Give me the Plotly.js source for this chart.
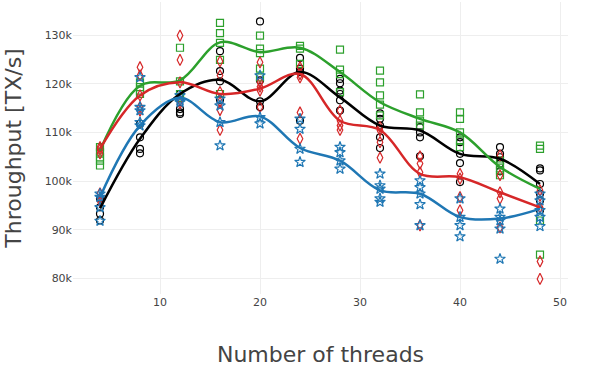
<!DOCTYPE html>
<html>
<head>
<meta charset="utf-8">
<script src="https://cdn.plot.ly/plotly-3.0.1.min.js"></script>
<style>html,body{margin:0;padding:0;background:#fff;}#chart{width:598px;height:371px;}</style>
</head>
<body>
<div id="chart"></div>
<script>
const threads = [4, 8, 12, 16, 20, 24, 28, 32, 36, 40, 44, 48];

// Individual runs (values in TX/s, thousands)
const blackRuns = [
  [96.4, 94.6, 93.3, 91.9],
  [111.8, 109.0, 106.6, 105.7],
  [117.9, 114.8, 114.1, 113.8],
  [126.7, 122.6, 120.5, 116.7],
  [132.8, 120.7, 116.4, 115.2],
  [125.3, 123.1, 122.4, 112.4],
  [121.0, 120.1, 118.6, 117.9, 116.6, 114.5],
  [113.9, 112.8, 111.4, 109.0, 106.8],
  [111.1, 110.0, 109.0, 105.1],
  [109.0, 108.0, 105.6, 103.7, 99.8],
  [107.0, 105.6, 104.9, 103.6, 102.0],
  [102.6, 102.2, 99.4, 97.4, 96.0, 94.0]
];
const greenRuns = [
  [107.0, 105.9, 104.9, 104.2, 103.2],
  [120.3, 119.3, 118.6, 117.9],
  [127.4, 120.5, 117.9, 117.1],
  [132.5, 130.4, 128.4, 124.9, 117.9],
  [129.9, 127.2, 126.3, 123.1, 121.3],
  [127.8, 127.2, 124.1],
  [127.0, 122.9, 122.0, 118.3],
  [122.7, 120.3, 117.6, 115.7, 113.5],
  [117.8, 114.1, 112.4, 111.4],
  [114.1, 112.8, 110.0, 108.3, 107.0],
  [104.2, 103.2, 102.2, 101.2],
  [107.3, 106.6, 91.9, 84.9]
];
const redRuns = [
  [107.0, 106.5, 105.7, 97.5, 96.5, 95.9],
  [123.4, 121.7, 117.6, 115.2, 114.5],
  [129.9, 124.9, 120.3, 116.7, 116.0],
  [124.6, 121.7, 118.3, 116.2, 114.6, 110.5],
  [124.4, 120.3, 119.4, 118.6, 115.2],
  [123.4, 122.0, 121.3, 114.1, 108.7],
  [114.5, 112.4, 111.4, 110.5],
  [111.1, 110.4, 108.0, 104.8],
  [105.1, 103.6, 101.8, 90.9],
  [101.5, 100.5, 96.7, 94.0],
  [105.3, 101.2, 97.7, 96.4, 90.5],
  [98.1, 97.0, 94.6, 83.5, 79.9]
];
const blueRuns = [
  [97.4, 96.7, 94.6, 91.8],
  [121.3, 115.2, 114.5, 112.1, 111.4],
  [117.6, 116.6, 116.2],
  [116.9, 115.5, 112.1, 107.3],
  [121.7, 113.1, 111.8],
  [112.8, 110.7, 106.6, 103.9],
  [107.0, 105.9, 104.2, 102.5],
  [101.5, 99.1, 98.4, 96.4, 95.7],
  [100.1, 98.7, 97.4, 95.2, 90.9],
  [96.4, 92.6, 90.9, 88.6],
  [94.3, 92.6, 91.9, 90.2, 84.0],
  [97.4, 96.0, 94.0, 92.6, 90.7]
];

// Mean curves (thousands)
const blackMean = [94.4, 108.7, 117.9, 120.8, 116.4, 122.4, 117.2, 111.4, 110.4, 105.6, 104.6, 99.4];
const greenMean = [106.3, 119.6, 120.7, 128.5, 126.5, 127.4, 122.4, 116.2, 112.8, 110.0, 102.9, 98.4];
const redMean   = [106.6, 117.6, 120.3, 117.9, 119.0, 122.0, 112.4, 110.5, 101.5, 100.8, 97.7, 94.6];
const blueMean  = [96.7, 111.4, 117.1, 112.1, 113.3, 106.8, 104.2, 98.1, 97.4, 92.6, 92.3, 94.3];

const yTickVals = [80, 90, 100, 110, 120, 130];
const yTickText = ['80k', '90k', '100k', '110k', '120k', '130k'];

function flatten(runs) {
  const xs = [], ys = [];
  runs.forEach((r, i) => r.forEach(v => { xs.push(threads[i]); ys.push(v * 1000); }));
  return {xs, ys};
}

const series = [
  {runs: blackRuns, mean: blackMean, color: '#000000', symbol: 'circle-open', size: 7},
  {runs: greenRuns, mean: greenMean, color: '#2ca02c', symbol: 'square-open', size: 7},
  {runs: redRuns,   mean: redMean,   color: '#d62728', symbol: 'diamond-tall-open', size: 8},
  {runs: blueRuns,  mean: blueMean,  color: '#1f77b4', symbol: 'star-open', size: 8}
];

const traces = [];
series.forEach(s => {
  const f = flatten(s.runs);
  traces.push({
    x: f.xs, y: f.ys, type: 'scatter', mode: 'markers', showlegend: false,
    marker: {symbol: s.symbol, size: s.size, color: s.color, line: {width: 1.2, color: s.color}},
    hoverinfo: 'skip'
  });
});
series.forEach(s => {
  traces.push({
    x: threads, y: s.mean.map(v => v * 1000), type: 'scatter', mode: 'lines', showlegend: false,
    line: {shape: 'spline', smoothing: 1, width: 2.5, color: s.color}
  });
});

const layout = {
  width: 598, height: 371,
  margin: {l: 73, r: 30, t: 2, b: 77},
  paper_bgcolor: '#ffffff', plot_bgcolor: '#ffffff',
  font: {family: '"DejaVu Sans", verdana, arial, sans-serif', color: '#444', size: 11},
  showlegend: false,
  xaxis: {
    range: [1.3, 50.8], tickvals: [10, 20, 30, 40, 50], gridcolor: '#eeeeee', zeroline: false,
    showline: false, ticks: '',
    title: {text: 'Number of threads', font: {size: 22, color: '#444'}, standoff: 38}
  },
  yaxis: {
    range: [76800, 136800], tickvals: yTickVals.map(v => v * 1000), ticktext: yTickText,
    gridcolor: '#eeeeee', zeroline: false, showline: false, ticks: '',
    title: {text: 'Throughput [TX/s]', font: {size: 22, color: '#444'}, standoff: 16}
  }
};

Plotly.newPlot('chart', traces, layout, {displayModeBar: false, staticPlot: true});
</script>
</body>
</html>
